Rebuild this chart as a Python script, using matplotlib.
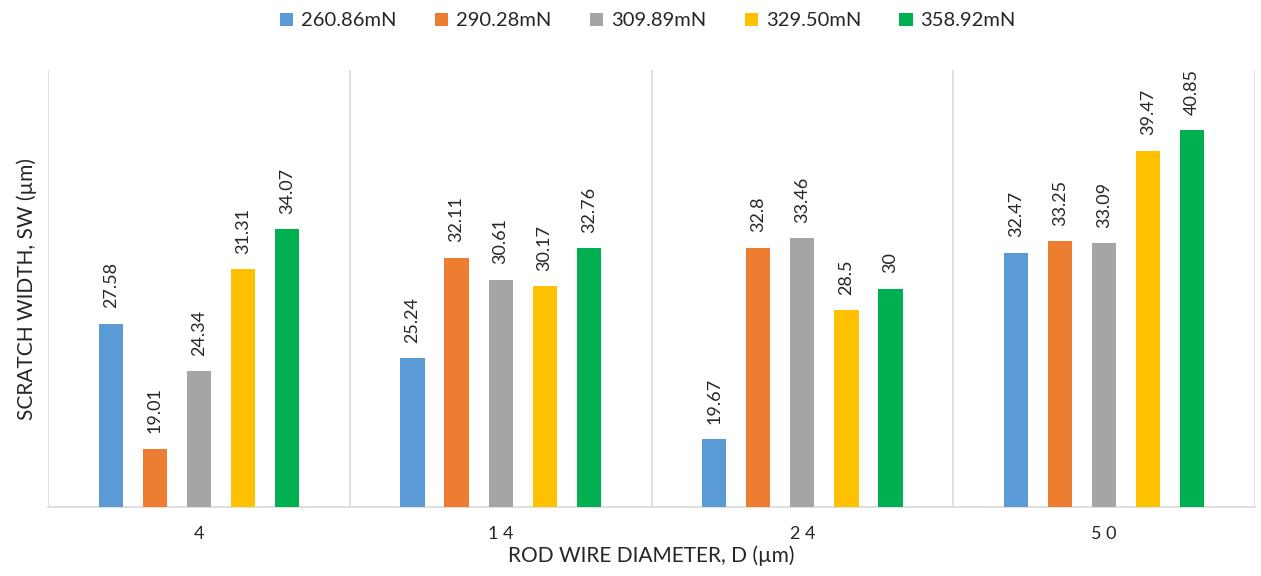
import matplotlib.pyplot as plt
import numpy as np

plt.rcParams['font.family'] = ['Lato', 'DejaVu Sans']

diameters = ["4", "14", "24", "50"]
loads = ["260.86mN", "290.28mN", "309.89mN", "329.50mN", "358.92mN"]
sw_260 = [27.58, 25.24, 19.67, 32.47]
sw_290 = [19.01, 32.11, 32.8, 33.25]
sw_309 = [24.34, 30.61, 33.46, 33.09]
sw_329 = [31.31, 30.17, 28.5, 39.47]
sw_358 = [34.07, 32.76, 30, 40.85]
series = [sw_260, sw_290, sw_309, sw_329, sw_358]
colors = ["#5B9BD5", "#ED7D31", "#A5A5A5", "#FFC000", "#00B050"]

fig = plt.figure(figsize=(12.61, 5.76), dpi=100)
ax = fig.add_axes([48 / 1261, 69 / 576, 1207 / 1261, 437 / 576])

x = np.arange(len(diameters))
step = 0.146
width = 0.08
handles = []
for i, (vals, col, lab) in enumerate(zip(series, colors, loads)):
    pos = x + (i - 2) * step
    b = ax.bar(pos, vals, width=width, color=col, label=lab, zorder=3)
    handles.append(b)
    for px, v in zip(pos, vals):
        ax.annotate(f"{v:g}", (px, v), xytext=(0, 11), textcoords="offset points",
                    rotation=90, ha="center", va="bottom", fontsize=13, color="#262626")

ax.set_xlim(-0.5, len(diameters) - 0.5)
ax.set_ylim(15, 45)
ax.set_yticks([])
ax.set_xticks(x)
ax.set_xticklabels([" ".join(d) for d in diameters], fontsize=13, color="#262626")
ax.tick_params(axis="x", length=0, pad=14)
for xv in np.arange(-0.5, len(diameters), 1.0):
    ax.axvline(xv, color="#D9D9D9", lw=1.2, zorder=1)
for s in ["top", "right", "left"]:
    ax.spines[s].set_visible(False)
ax.spines["bottom"].set_color("#D9D9D9")
ax.spines["bottom"].set_linewidth(1.2)

ax.set_xlabel("ROD WIRE DIAMETER, D (µm)", fontsize=15, color="#262626", labelpad=2)
ax.set_ylabel("SCRATCH WIDTH, SW (µm)", fontsize=15, color="#262626", labelpad=8)

fig.legend(handles=handles, loc="upper center", bbox_to_anchor=(0.514, 1.01), ncol=5,
           frameon=False, fontsize=14.5, handlelength=0.65, handleheight=0.65,
           handletextpad=0.4, columnspacing=1.9, labelcolor="#262626")

fig.savefig("out.png", dpi=100)
